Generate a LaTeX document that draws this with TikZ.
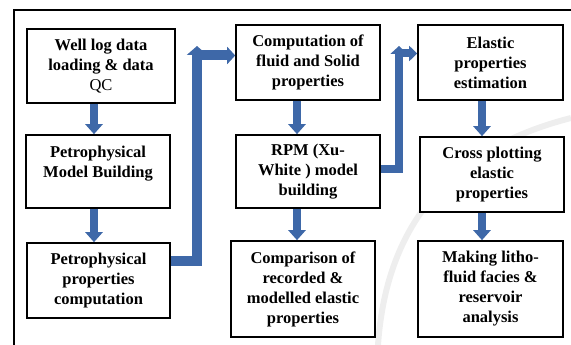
\documentclass[tikz,border=0pt]{standalone}
\usepackage{fontspec}
\setmainfont{Liberation Serif}
\usetikzlibrary{arrows.meta,calc}
\definecolor{ArrowClr}{RGB}{62,104,168}
\definecolor{MarkClr}{RGB}{238,238,238}

\begin{document}
\begin{tikzpicture}[x=1pt,y=-1pt,
  box/.style={draw=black,line width=1.6pt,fill=white,align=center,inner sep=2pt,
    font=\fontsize{16.5}{20}\selectfont\bfseries},
  flow/.style={draw=ArrowClr,line width=8pt,-{Triangle[width=17pt,length=10pt]}},
  bent/.style={draw=ArrowClr,line join=miter}]

\useasboundingbox (0,0) rectangle (571,345);

\draw[MarkClr,line width=6pt] (378,345) .. controls (386,230) and (445,150) .. (571,118);
\draw[line width=1.2pt] (14,345) -- (14,10) -- (571,10);

\node[box,minimum width=148pt,minimum height=74pt] (wl) at (101,66) {Well log data\\loading \& data\\{\mdseries QC}};
\node[box,minimum width=144pt,minimum height=73pt] (pm) at (98,171.5) {Petrophysical\\Model Building\\~};
\node[box,minimum width=143pt,minimum height=75pt] (pp) at (98.5,280.5) {Petrophysical\\properties\\computation};

\node[box,minimum width=144pt,minimum height=75pt] (cf) at (308,62.5) {Computation of\\fluid and Solid\\properties};
\node[box,minimum width=144pt,minimum height=73pt] (rpm) at (308,171.5) {RPM (Xu-\\White ) model\\building};
\node[box,minimum width=144pt,minimum height=96pt] (cmp) at (303,289) {Comparison of\\recorded \&\\modelled elastic\\properties};

\node[box,minimum width=145pt,minimum height=75pt] (ep) at (490.5,62.5) {Elastic\\properties\\estimation};
\node[box,minimum width=144pt,minimum height=75pt] (cp) at (492,174.5) {Cross plotting\\elastic\\properties};
\node[box,minimum width=145pt,minimum height=96pt] (lf) at (490.5,289) {Making litho-\\fluid facies \&\\reservoir\\analysis};

\draw[flow] ([xshift=-7pt]wl.south) -- ([xshift=-7pt]wl.south |- pm.north);
\draw[flow] ([xshift=-4pt]pm.south) -- ([xshift=-4pt]pm.south |- pp.north);
\draw[flow] ([xshift=-11pt]cf.south) -- ([xshift=-11pt]cf.south |- rpm.north);
\draw[flow] ([xshift=-11pt]rpm.south) -- ([xshift=-11pt]rpm.south |- cmp.north);
\draw[flow] ([xshift=-8.5pt]ep.south) -- ([xshift=-8.5pt]ep.south |- cp.north);
\draw[flow] ([xshift=-10pt]cp.south) -- ([xshift=-10pt]cp.south |- lf.north);

\coordinate (t1) at (197,46);
\coordinate (e1) at ($(cf.west)+(0,-7)$);
\draw[bent,line width=10pt,-{Triangle[width=20pt,length=9pt]}] ([yshift=20pt]pp.east) -| (t1);
\draw[bent,line width=10pt,-{Triangle[width=17pt,length=8pt]}] (t1 |- e1) -- (e1);

\coordinate (t2) at (399,46);
\coordinate (e2) at ($(ep.west)+(0,-9)$);
\draw[bent,line width=8pt,-{Triangle[width=17pt,length=8pt]}] ([yshift=3pt]rpm.east) -| (t2);
\draw[bent,line width=8pt,-{Triangle[width=15pt,length=8pt]}] (t2 |- e2) -- (e2);

\end{tikzpicture}
\end{document}
